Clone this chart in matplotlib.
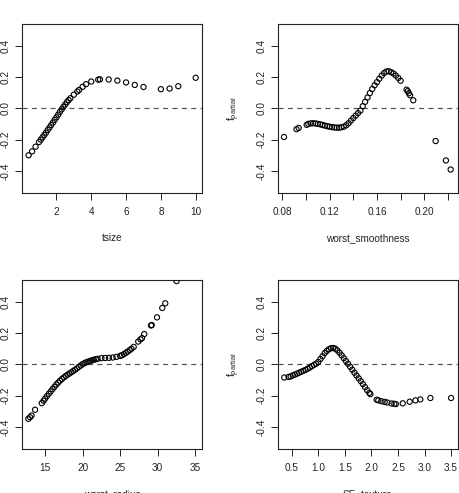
import matplotlib
matplotlib.use("Agg")
import matplotlib.pyplot as plt
import numpy as np

plt.rcParams['font.family'] = ['Liberation Sans', 'DejaVu Sans']

# ---- data ----
tsize_x = [0.4, 0.6, 0.8, 1.0, 1.1, 1.2, 1.3, 1.4, 1.5, 1.6, 1.7, 1.8, 1.9, 2.0,
           2.1, 2.2, 2.3, 2.4, 2.5, 2.6, 2.7, 2.8, 3.0, 3.2, 3.3, 3.5, 3.7, 4.0,
           4.4, 4.5, 5.0, 5.5, 6.0, 6.5, 7.0, 8.0, 8.5, 9.0, 10.0]
tsize_y = [-0.300, -0.275, -0.245, -0.215, -0.200, -0.185, -0.170, -0.155, -0.138,
           -0.122, -0.106, -0.090, -0.073, -0.057, -0.040, -0.022, -0.006, 0.010,
           0.025, 0.040, 0.053, 0.065, 0.088, 0.108, 0.118, 0.138, 0.155, 0.172,
           0.184, 0.186, 0.185, 0.178, 0.166, 0.150, 0.137, 0.123, 0.127, 0.142, 0.196]

smooth_x = [0.0814, 0.092, 0.0938, 0.1006, 0.102, 0.104, 0.106, 0.108, 0.110, 0.112,
            0.114, 0.116, 0.118, 0.120, 0.122, 0.124, 0.126, 0.128, 0.130, 0.132,
            0.134, 0.136, 0.138, 0.140, 0.142, 0.144, 0.146, 0.148, 0.150, 0.152,
            0.154, 0.156, 0.158, 0.160, 0.162, 0.164, 0.166, 0.168, 0.170, 0.172,
            0.174, 0.176, 0.178, 0.180, 0.185, 0.186, 0.187, 0.188, 0.1907,
            0.2096, 0.2183, 0.2223]
smooth_y = [-0.183, -0.133, -0.125, -0.105, -0.099, -0.096, -0.095, -0.096, -0.099,
            -0.102, -0.106, -0.110, -0.114, -0.117, -0.120, -0.122, -0.123, -0.123,
            -0.121, -0.117, -0.108, -0.095, -0.078, -0.062, -0.046, -0.030, -0.014,
            0.014, 0.042, 0.070, 0.098, 0.124, 0.148, 0.168, 0.190, 0.210, 0.226,
            0.236, 0.238, 0.232, 0.223, 0.210, 0.195, 0.177, 0.120, 0.110, 0.097,
            0.084, 0.052, -0.209, -0.333, -0.391]

radius_x = [12.77, 13.0, 13.2, 13.67, 14.56, 14.8, 15.0, 15.25, 15.5, 15.75, 16.0,
            16.25, 16.5, 16.75, 17.0, 17.25, 17.5, 17.75, 18.0, 18.25, 18.5, 18.75,
            19.0, 19.25, 19.5, 19.75, 20.0, 20.25, 20.5, 20.75, 21.0, 21.25, 21.5,
            21.75, 22.0, 22.5, 23.0, 23.5, 24.0, 24.5, 25.0, 25.25, 25.5, 25.75,
            26.0, 26.25, 26.5, 26.8, 27.4, 27.7, 27.9, 28.2, 29.1, 29.2, 29.9,
            30.6, 31.0, 32.5]
radius_y = [-0.348, -0.338, -0.327, -0.290, -0.248, -0.232, -0.219, -0.203, -0.188,
            -0.173, -0.158, -0.143, -0.129, -0.116, -0.104, -0.093, -0.083, -0.074,
            -0.066, -0.058, -0.050, -0.042, -0.034, -0.025, -0.016, -0.007, 0.002,
            0.008, 0.014, 0.018, 0.022, 0.026, 0.030, 0.033, 0.036, 0.040, 0.041,
            0.042, 0.044, 0.048, 0.054, 0.059, 0.066, 0.074, 0.082, 0.091, 0.100,
            0.112, 0.146, 0.160, 0.168, 0.194, 0.249, 0.252, 0.301, 0.361, 0.391, 0.533]

setex_x = [0.36, 0.44, 0.48, 0.52, 0.56, 0.60, 0.64, 0.68, 0.72, 0.76, 0.80, 0.84,
           0.88, 0.92, 0.96, 1.00, 1.04, 1.08, 1.12, 1.16, 1.20, 1.24, 1.28, 1.32,
           1.36, 1.40, 1.44, 1.48, 1.52, 1.56, 1.60, 1.64, 1.68, 1.72, 1.76, 1.80,
           1.84, 1.88, 1.92, 1.96, 1.98, 2.10, 2.13, 2.19, 2.25, 2.30, 2.38, 2.43,
           2.46, 2.59, 2.72, 2.83, 2.92, 3.11, 3.50]
setex_y = [-0.084, -0.080, -0.077, -0.070, -0.065, -0.059, -0.053, -0.047, -0.041,
           -0.035, -0.028, -0.020, -0.011, -0.003, 0.004, 0.016, 0.034, 0.052, 0.072,
           0.086, 0.097, 0.104, 0.105, 0.100, 0.090, 0.075, 0.058, 0.040, 0.022,
           0.004, -0.015, -0.034, -0.053, -0.071, -0.089, -0.107, -0.126, -0.145,
           -0.165, -0.182, -0.190, -0.226, -0.230, -0.236, -0.240, -0.244, -0.250,
           -0.252, -0.254, -0.249, -0.239, -0.230, -0.224, -0.215, -0.215]

panels = [
    dict(x=tsize_x, y=tsize_y, xlabel="tsize", xlim=(0.02, 10.38),
         ticks=[2, 4, 6, 8, 10], labels=["2", "4", "6", "8", "10"], ylab=False),
    dict(x=smooth_x, y=smooth_y, xlabel="worst_smoothness", xlim=(0.0761, 0.2285),
         ticks=[0.08, 0.10, 0.12, 0.14, 0.16, 0.18, 0.20, 0.22],
         labels=["0.08", "", "0.12", "", "0.16", "", "0.20", ""], ylab=True),
    dict(x=radius_x, y=radius_y, xlabel="worst_radius", xlim=(11.93, 35.93),
         ticks=[15, 20, 25, 30, 35], labels=["15", "20", "25", "30", "35"], ylab=False),
    dict(x=setex_x, y=setex_y, xlabel="SE_texture", xlim=(0.236, 3.63),
         ticks=[0.5, 1.0, 1.5, 2.0, 2.5, 3.0, 3.5],
         labels=["0.5", "1.0", "1.5", "2.0", "2.5", "3.0", "3.5"], ylab=True),
]

W, H = 460, 493
fig = plt.figure(figsize=(W / 100, H / 100), dpi=100)
lefts = [22, 277.7, 22, 277.7]
tops = [24, 24, 280, 280]
for p, l, t in zip(panels, lefts, tops):
    w, h = 180.3, 168.8
    ax = fig.add_axes([l / W, 1 - (t + h) / H, w / W, h / H])
    ax.scatter(p["x"], p["y"], s=14, facecolors="none", edgecolors="black",
               linewidths=0.8, zorder=3, clip_on=True)
    ax.axhline(0, color="#555555", linestyle=(0, (4, 3.5)), linewidth=0.9, zorder=2)
    ax.set_xlim(*p["xlim"])
    ax.set_ylim(-0.54, 0.54)
    ax.set_xticks(p["ticks"])
    ax.set_xticklabels(p["labels"])
    ax.set_yticks([-0.4, -0.2, 0.0, 0.2, 0.4])
    ax.set_yticklabels(["-0.4", "-0.2", "0.0", "0.2", "0.4"], rotation=90, va="center")
    ax.tick_params(direction="out", length=5, width=0.7, labelsize=7.2, colors="#222222",
                   pad=3)
    ax.tick_params(axis="x", pad=5)
    for sp in ax.spines.values():
        sp.set_linewidth(0.8)
        sp.set_color("#222222")
    ax.set_xlabel(p["xlabel"], fontsize=7.2, color="#222222", labelpad=12)
    if p["ylab"]:
        ax.set_ylabel(r"$\mathregular{f_{partial}}$", fontsize=7.5, color="#222222")
        ax.yaxis.set_label_coords(-0.2, 0.5)

fig.savefig("out.png", dpi=100)
